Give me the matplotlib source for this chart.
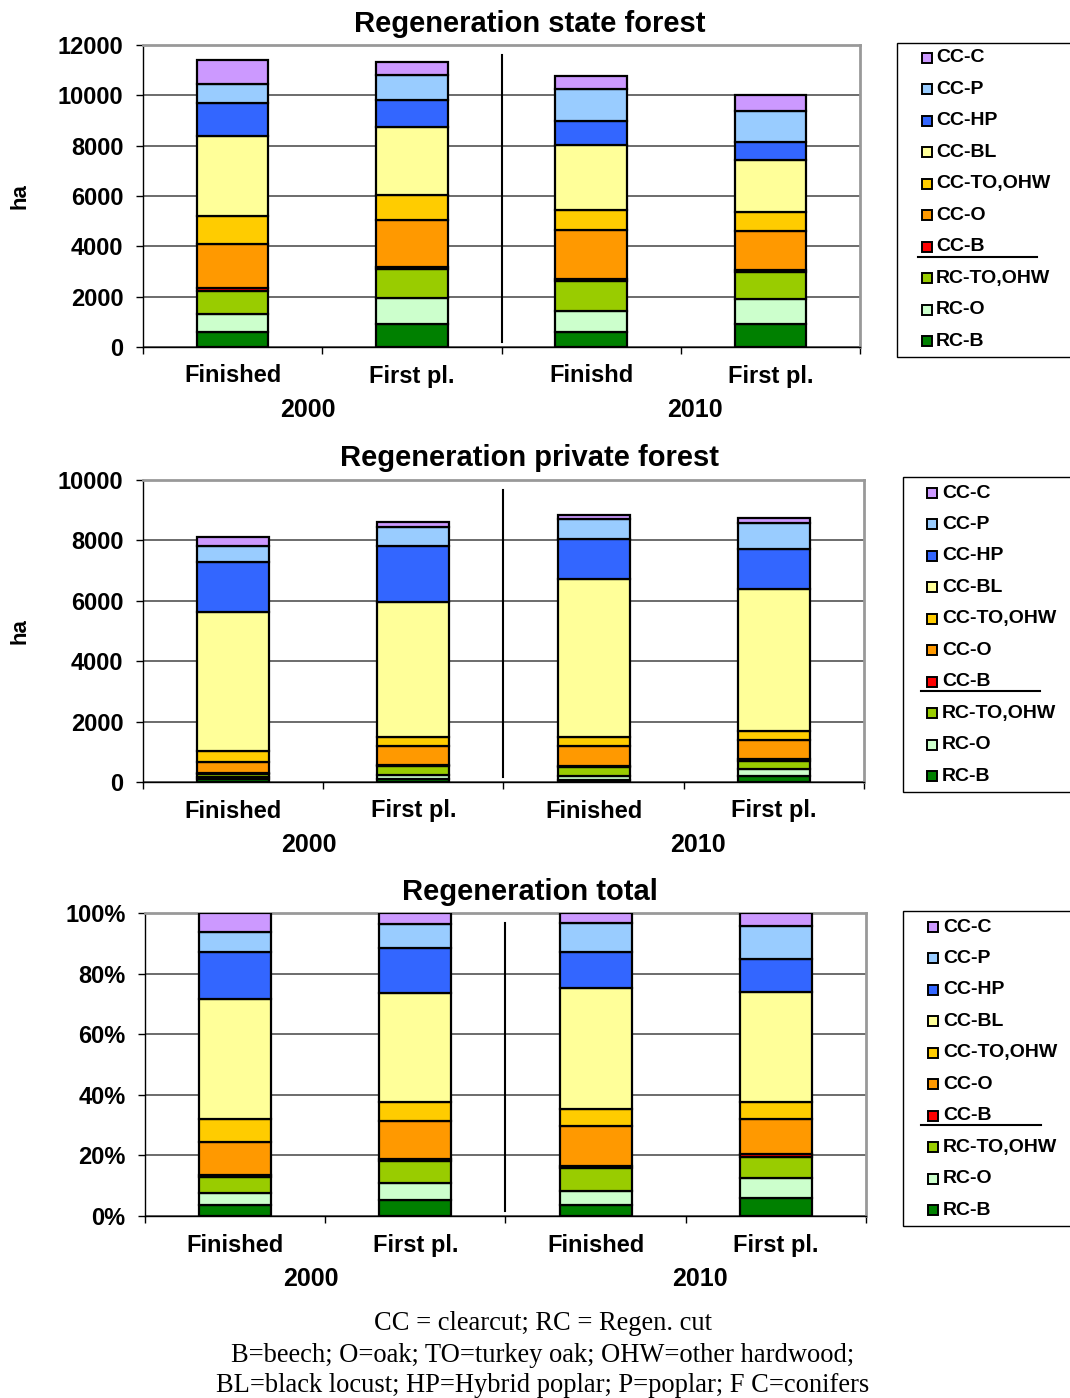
import numpy as np
import matplotlib
matplotlib.use("Agg")
import matplotlib.pyplot as plt
from matplotlib.patches import Rectangle
from matplotlib.lines import Line2D
import matplotlib.transforms as mtransforms

plt.rcParams['font.family'] = ['Liberation Sans', 'DejaVu Sans']

# ---------------- data ----------------
series = ["RC-B", "RC-O", "RC-TO,OHW", "CC-B", "CC-O", "CC-TO,OHW",
          "CC-BL", "CC-HP", "CC-P", "CC-C"]
colors = ["#008000", "#CCFFCC", "#99CC00", "#FF0000", "#FF9900", "#FFCC00",
          "#FFFF99", "#3366FF", "#99CCFF", "#CC99FF"]

cats_state = ["Finished", "First pl.", "Finishd", "First pl."]
cats_other = ["Finished", "First pl.", "Finished", "First pl."]
years = ["2000", "2010"]

state_rc_b = [600, 930, 600, 910]
state_rc_o = [700, 1000, 830, 990]
state_rc_to = [930, 1160, 1210, 1070]
state_cc_b = [100, 100, 50, 80]
state_cc_o = [1770, 1870, 1940, 1560]
state_cc_to = [1100, 970, 800, 760]
state_cc_bl = [3170, 2700, 2610, 2080]
state_cc_hp = [1330, 1090, 960, 690]
state_cc_p = [760, 970, 1240, 1240]
state_cc_c = [930, 530, 520, 630]

priv_rc_b = [100, 100, 80, 190]
priv_rc_o = [60, 130, 130, 240]
priv_rc_to = [100, 290, 275, 275]
priv_cc_b = [50, 40, 55, 55]
priv_cc_o = [360, 620, 640, 630]
priv_cc_to = [350, 295, 295, 310]
priv_cc_bl = [4600, 4485, 5235, 4700]
priv_cc_hp = [1660, 1850, 1345, 1325]
priv_cc_p = [540, 630, 660, 860]
priv_cc_c = [280, 165, 110, 145]

state = np.array([state_rc_b, state_rc_o, state_rc_to, state_cc_b, state_cc_o,
                  state_cc_to, state_cc_bl, state_cc_hp, state_cc_p, state_cc_c], float)
private = np.array([priv_rc_b, priv_rc_o, priv_rc_to, priv_cc_b, priv_cc_o,
                    priv_cc_to, priv_cc_bl, priv_cc_hp, priv_cc_p, priv_cc_c], float)
total = state + private
total_share = total / total.sum(axis=0)

# ---------------- figure ----------------
W, H = 1070, 1398
fig = plt.figure(figsize=(W / 100, H / 100), dpi=100)


def fx(px):
    return px / W


def fy(py):
    return 1 - py / H


def make_axes(l, r, t, b):
    return fig.add_axes([fx(l), fy(b), fx(r - l), (b - t) / H])


def draw_chart(ax, data, ylim, yticks, ylabels, cats, title, title_y, ylab):
    x = np.arange(4)
    bottom = np.zeros(4)
    for i in range(len(series)):
        ax.bar(x, data[i], 0.4, bottom=bottom, color=colors[i],
               edgecolor="black", linewidth=1.6, zorder=3)
        bottom += data[i]
    ax.set_xlim(-0.5, 3.5)
    ax.set_ylim(*ylim)
    ax.set_yticks(yticks)
    ax.set_yticklabels(ylabels, fontsize=17, fontweight="bold")
    ax.set_xticks([-0.5, 0.5, 1.5, 2.5, 3.5])
    ax.set_xticklabels([])
    ax.tick_params(axis="both", direction="out", length=5, width=1, color="black")
    ax.tick_params(axis="y", pad=9)
    ax.yaxis.grid(True, color="#444444", linewidth=1.1, zorder=0)
    ax.set_axisbelow(True)
    for s in ["top", "right"]:
        ax.spines[s].set_color("#999999")
        ax.spines[s].set_linewidth(2)
    for s in ["left", "bottom"]:
        ax.spines[s].set_color("black")
        ax.spines[s].set_linewidth(1)
    ax.axvline(1.5, ymin=0.015, ymax=0.967, color="black", linewidth=1.5, zorder=4)
    trans = mtransforms.blended_transform_factory(ax.transData, ax.transAxes)
    for i, c in enumerate(cats):
        ax.text(i, -29 / 302, c, transform=trans, ha="center", va="center",
                fontsize=17, fontweight="bold")
    for xp, yr in zip([0.42, 2.58], years):
        ax.text(xp, -63 / 302, yr, transform=trans, ha="center", va="center",
                fontsize=18, fontweight="bold")
    fig.text(fx(530), fy(title_y), title, ha="center", va="center",
             fontsize=21, fontweight="bold")
    if ylab:
        bb = ax.get_position()
        fig.text(fx(20), (bb.y0 + bb.y1) / 2, ylab, rotation=90, ha="center",
                 va="center", fontsize=16, fontweight="bold")


def draw_legend(box_l, box_t, box_b, first_y, mark_x, text_x, line_x0, line_x1, line_y):
    fig.add_artist(Rectangle((fx(box_l), fy(box_b)), fx(300), (box_b - box_t) / H,
                             transform=fig.transFigure, facecolor="white",
                             edgecolor="black", linewidth=1, zorder=1))
    step = 31.45
    ms = 10
    for k, i in enumerate(range(len(series) - 1, -1, -1)):
        yc = first_y + k * step
        fig.add_artist(Rectangle((fx(mark_x - ms / 2), fy(yc + ms / 2)), fx(ms), ms / H,
                                 transform=fig.transFigure, facecolor=colors[i],
                                 edgecolor="black", linewidth=1.4, zorder=2))
        fig.text(fx(text_x), fy(yc), series[i], ha="left", va="center",
                 fontsize=14, fontweight="bold", zorder=3)
    fig.add_artist(Line2D([fx(line_x0), fx(line_x1)], [fy(line_y), fy(line_y)],
                          transform=fig.transFigure, color="black", linewidth=1.5))


# chart 1: state forest
ax1 = make_axes(143, 860, 45, 347)
draw_chart(ax1, state, (0, 12000), np.arange(0, 12001, 2000),
           [str(v) for v in range(0, 12001, 2000)], cats_state,
           "Regeneration state forest", 24, "ha")
draw_legend(897, 43, 357, 58, 927, 936, 918, 1037, 257)

# chart 2: private forest
ax2 = make_axes(143, 864, 480, 782)
draw_chart(ax2, private, (0, 10000), np.arange(0, 10001, 2000),
           [str(v) for v in range(0, 10001, 2000)], cats_other,
           "Regeneration private forest", 458, "ha")
draw_legend(903, 477, 792, 493, 932, 942, 921, 1040, 691)

# chart 3: total share
ax3 = make_axes(145, 866, 913, 1216)
draw_chart(ax3, total_share, (0, 1), np.arange(0, 1.01, 0.2),
           ["0%", "20%", "40%", "60%", "80%", "100%"], cats_other,
           "Regeneration total", 892, None)
draw_legend(903, 911, 1226, 927, 933, 943, 921, 1041, 1125)

# footnote
notes = ["CC = clearcut; RC = Regen. cut",
         "B=beech; O=oak; TO=turkey oak; OHW=other hardwood;",
         "BL=black locust; HP=Hybrid poplar; P=poplar; F C=conifers"]
for j, t in enumerate(notes):
    fig.text(fx(543), fy(1324 + j * 31), t, ha="center", va="center",
             fontsize=19.1, family=["Liberation Serif", "DejaVu Serif"])

fig.savefig("out.png", dpi=100)
